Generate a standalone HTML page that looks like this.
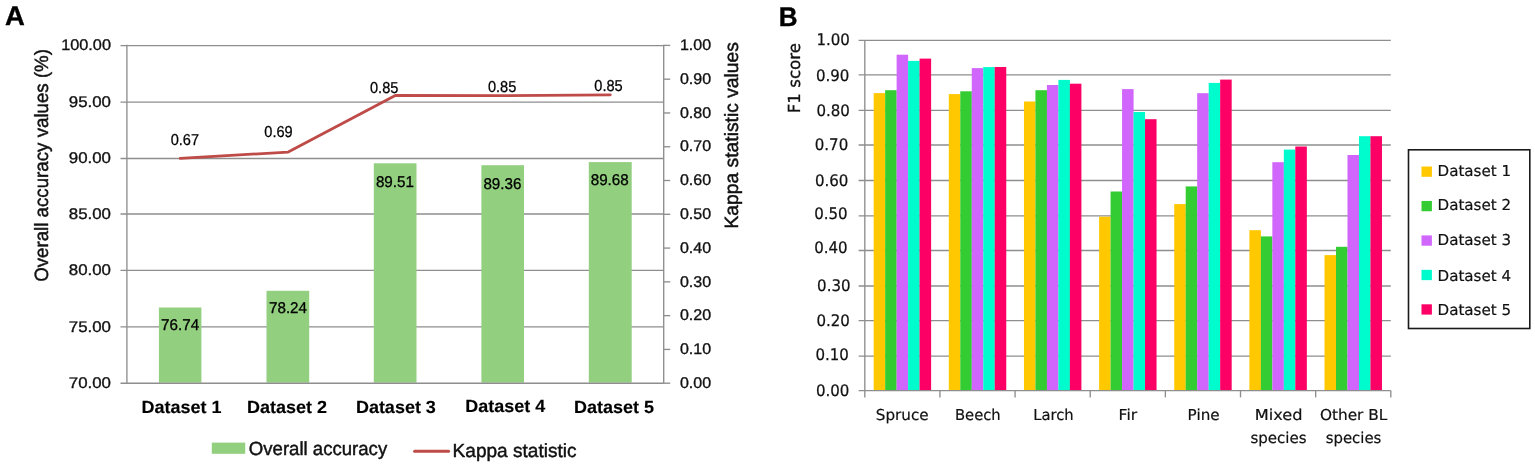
<!DOCTYPE html>
<html lang="en">
<head>
<meta charset="utf-8">
<title>Figure: overall accuracy, kappa statistic and F1 score per dataset</title>
<style>
html,body{margin:0;padding:0;background:#fff;}
body{width:1535px;height:466px;overflow:hidden;}
svg{display:block;}
text{white-space:pre;text-rendering:geometricPrecision;}
</style>
</head>
<body>
<svg width="1535" height="466" viewBox="0 0 1535 466">
<rect x="0" y="0" width="1535" height="466" fill="#ffffff"/>
<text x="5.00" y="25.10" font-size="26.8" font-family='"Liberation Sans", sans-serif' fill="#000" stroke="#000" stroke-width="0.4" stroke-linejoin="round" font-weight="bold" textLength="19.80" lengthAdjust="spacingAndGlyphs">A</text>
<text x="778.80" y="25.50" font-size="26.8" font-family='"Liberation Sans", sans-serif' fill="#000" stroke="#000" stroke-width="0.4" stroke-linejoin="round" font-weight="bold" textLength="18.80" lengthAdjust="spacingAndGlyphs">B</text>
<line x1="120.50" y1="45.55" x2="663.70" y2="45.55" stroke="#8e8e8e" stroke-width="1.35"/>
<line x1="120.50" y1="102.10" x2="663.70" y2="102.10" stroke="#8e8e8e" stroke-width="1.35"/>
<line x1="120.50" y1="158.50" x2="663.70" y2="158.50" stroke="#8e8e8e" stroke-width="1.35"/>
<line x1="120.50" y1="214.00" x2="663.70" y2="214.00" stroke="#8e8e8e" stroke-width="1.35"/>
<line x1="120.50" y1="270.40" x2="663.70" y2="270.40" stroke="#8e8e8e" stroke-width="1.35"/>
<line x1="120.50" y1="326.90" x2="663.70" y2="326.90" stroke="#8e8e8e" stroke-width="1.35"/>
<line x1="126.90" y1="44.80" x2="126.90" y2="383.80" stroke="#8e8e8e" stroke-width="1.35"/>
<line x1="663.70" y1="44.80" x2="663.70" y2="383.80" stroke="#8e8e8e" stroke-width="1.35"/>
<line x1="663.70" y1="45.40" x2="670.20" y2="45.40" stroke="#8e8e8e" stroke-width="1.35"/>
<line x1="663.70" y1="79.18" x2="670.20" y2="79.18" stroke="#8e8e8e" stroke-width="1.35"/>
<line x1="663.70" y1="112.96" x2="670.20" y2="112.96" stroke="#8e8e8e" stroke-width="1.35"/>
<line x1="663.70" y1="146.74" x2="670.20" y2="146.74" stroke="#8e8e8e" stroke-width="1.35"/>
<line x1="663.70" y1="180.52" x2="670.20" y2="180.52" stroke="#8e8e8e" stroke-width="1.35"/>
<line x1="663.70" y1="214.30" x2="670.20" y2="214.30" stroke="#8e8e8e" stroke-width="1.35"/>
<line x1="663.70" y1="248.08" x2="670.20" y2="248.08" stroke="#8e8e8e" stroke-width="1.35"/>
<line x1="663.70" y1="281.86" x2="670.20" y2="281.86" stroke="#8e8e8e" stroke-width="1.35"/>
<line x1="663.70" y1="315.64" x2="670.20" y2="315.64" stroke="#8e8e8e" stroke-width="1.35"/>
<line x1="663.70" y1="349.42" x2="670.20" y2="349.42" stroke="#8e8e8e" stroke-width="1.35"/>
<line x1="663.70" y1="383.20" x2="670.20" y2="383.20" stroke="#8e8e8e" stroke-width="1.35"/>
<text x="61.20" y="50.15" font-size="15.4" font-family='"Liberation Sans", sans-serif' fill="#111" stroke="#111" stroke-width="0.35" stroke-linejoin="round" textLength="49.80" lengthAdjust="spacingAndGlyphs">100.00</text>
<text x="68.80" y="106.70" font-size="15.4" font-family='"Liberation Sans", sans-serif' fill="#111" stroke="#111" stroke-width="0.35" stroke-linejoin="round" textLength="42.20" lengthAdjust="spacingAndGlyphs">95.00</text>
<text x="68.80" y="163.10" font-size="15.4" font-family='"Liberation Sans", sans-serif' fill="#111" stroke="#111" stroke-width="0.35" stroke-linejoin="round" textLength="42.20" lengthAdjust="spacingAndGlyphs">90.00</text>
<text x="68.80" y="218.60" font-size="15.4" font-family='"Liberation Sans", sans-serif' fill="#111" stroke="#111" stroke-width="0.35" stroke-linejoin="round" textLength="42.20" lengthAdjust="spacingAndGlyphs">85.00</text>
<text x="68.80" y="275.00" font-size="15.4" font-family='"Liberation Sans", sans-serif' fill="#111" stroke="#111" stroke-width="0.35" stroke-linejoin="round" textLength="42.20" lengthAdjust="spacingAndGlyphs">80.00</text>
<text x="68.80" y="331.50" font-size="15.4" font-family='"Liberation Sans", sans-serif' fill="#111" stroke="#111" stroke-width="0.35" stroke-linejoin="round" textLength="42.20" lengthAdjust="spacingAndGlyphs">75.00</text>
<text x="68.80" y="387.80" font-size="15.4" font-family='"Liberation Sans", sans-serif' fill="#111" stroke="#111" stroke-width="0.35" stroke-linejoin="round" textLength="42.20" lengthAdjust="spacingAndGlyphs">70.00</text>
<text x="679.90" y="50.10" font-size="15.4" font-family='"Liberation Sans", sans-serif' fill="#111" stroke="#111" stroke-width="0.35" stroke-linejoin="round" textLength="31.20" lengthAdjust="spacingAndGlyphs">1.00</text>
<text x="679.90" y="83.88" font-size="15.4" font-family='"Liberation Sans", sans-serif' fill="#111" stroke="#111" stroke-width="0.35" stroke-linejoin="round" textLength="31.20" lengthAdjust="spacingAndGlyphs">0.90</text>
<text x="679.90" y="117.66" font-size="15.4" font-family='"Liberation Sans", sans-serif' fill="#111" stroke="#111" stroke-width="0.35" stroke-linejoin="round" textLength="31.20" lengthAdjust="spacingAndGlyphs">0.80</text>
<text x="679.90" y="151.44" font-size="15.4" font-family='"Liberation Sans", sans-serif' fill="#111" stroke="#111" stroke-width="0.35" stroke-linejoin="round" textLength="31.20" lengthAdjust="spacingAndGlyphs">0.70</text>
<text x="679.90" y="185.22" font-size="15.4" font-family='"Liberation Sans", sans-serif' fill="#111" stroke="#111" stroke-width="0.35" stroke-linejoin="round" textLength="31.20" lengthAdjust="spacingAndGlyphs">0.60</text>
<text x="679.90" y="219.00" font-size="15.4" font-family='"Liberation Sans", sans-serif' fill="#111" stroke="#111" stroke-width="0.35" stroke-linejoin="round" textLength="31.20" lengthAdjust="spacingAndGlyphs">0.50</text>
<text x="679.90" y="252.78" font-size="15.4" font-family='"Liberation Sans", sans-serif' fill="#111" stroke="#111" stroke-width="0.35" stroke-linejoin="round" textLength="31.20" lengthAdjust="spacingAndGlyphs">0.40</text>
<text x="679.90" y="286.56" font-size="15.4" font-family='"Liberation Sans", sans-serif' fill="#111" stroke="#111" stroke-width="0.35" stroke-linejoin="round" textLength="31.20" lengthAdjust="spacingAndGlyphs">0.30</text>
<text x="679.90" y="320.34" font-size="15.4" font-family='"Liberation Sans", sans-serif' fill="#111" stroke="#111" stroke-width="0.35" stroke-linejoin="round" textLength="31.20" lengthAdjust="spacingAndGlyphs">0.20</text>
<text x="679.90" y="354.12" font-size="15.4" font-family='"Liberation Sans", sans-serif' fill="#111" stroke="#111" stroke-width="0.35" stroke-linejoin="round" textLength="31.20" lengthAdjust="spacingAndGlyphs">0.10</text>
<text x="679.90" y="387.90" font-size="15.4" font-family='"Liberation Sans", sans-serif' fill="#111" stroke="#111" stroke-width="0.35" stroke-linejoin="round" textLength="31.20" lengthAdjust="spacingAndGlyphs">0.00</text>
<text x="47.70" y="281.80" font-size="19.2" font-family='"Liberation Sans", sans-serif' fill="#111" stroke="#111" stroke-width="0.45" stroke-linejoin="round" textLength="232.80" lengthAdjust="spacingAndGlyphs" transform="rotate(-90 47.70 281.80)">Overall accuracy values (%)</text>
<text x="737.80" y="228.50" font-size="19.2" font-family='"Liberation Sans", sans-serif' fill="#111" stroke="#111" stroke-width="0.45" stroke-linejoin="round" textLength="186.40" lengthAdjust="spacingAndGlyphs" transform="rotate(-90 737.80 228.50)">Kappa statistic values</text>
<rect x="158.90" y="307.50" width="42.50" height="75.10" fill="#92cf7f"/>
<rect x="266.50" y="290.80" width="42.70" height="91.80" fill="#92cf7f"/>
<rect x="373.80" y="163.30" width="42.70" height="219.30" fill="#92cf7f"/>
<rect x="481.40" y="165.20" width="42.60" height="217.40" fill="#92cf7f"/>
<rect x="588.80" y="162.10" width="42.90" height="220.50" fill="#92cf7f"/>
<line x1="120.50" y1="383.20" x2="663.70" y2="383.20" stroke="#8e8e8e" stroke-width="1.35"/>
<polyline fill="none" stroke="#be4b48" stroke-width="2.8" stroke-linejoin="round" stroke-linecap="round" points="180.2,158.3 288.2,152.1 395.3,95.5 503.0,95.6 610.3,94.8"/>
<text x="161.10" y="330.20" font-size="15.6" font-family='"Liberation Sans", sans-serif' fill="#000" stroke="#000" stroke-width="0.3" stroke-linejoin="round" textLength="38.00" lengthAdjust="spacingAndGlyphs">76.74</text>
<text x="269.00" y="313.40" font-size="15.6" font-family='"Liberation Sans", sans-serif' fill="#000" stroke="#000" stroke-width="0.3" stroke-linejoin="round" textLength="38.00" lengthAdjust="spacingAndGlyphs">78.24</text>
<text x="375.90" y="186.80" font-size="15.6" font-family='"Liberation Sans", sans-serif' fill="#000" stroke="#000" stroke-width="0.3" stroke-linejoin="round" textLength="38.00" lengthAdjust="spacingAndGlyphs">89.51</text>
<text x="483.40" y="188.80" font-size="15.6" font-family='"Liberation Sans", sans-serif' fill="#000" stroke="#000" stroke-width="0.3" stroke-linejoin="round" textLength="38.00" lengthAdjust="spacingAndGlyphs">89.36</text>
<text x="590.70" y="185.00" font-size="15.6" font-family='"Liberation Sans", sans-serif' fill="#000" stroke="#000" stroke-width="0.3" stroke-linejoin="round" textLength="38.00" lengthAdjust="spacingAndGlyphs">89.68</text>
<text x="170.70" y="145.20" font-size="15.8" font-family='"Liberation Sans", sans-serif' fill="#000" stroke="#000" stroke-width="0.25" stroke-linejoin="round" textLength="28.40" lengthAdjust="spacingAndGlyphs">0.67</text>
<text x="264.30" y="136.80" font-size="15.8" font-family='"Liberation Sans", sans-serif' fill="#000" stroke="#000" stroke-width="0.25" stroke-linejoin="round" textLength="28.40" lengthAdjust="spacingAndGlyphs">0.69</text>
<text x="370.00" y="92.70" font-size="15.8" font-family='"Liberation Sans", sans-serif' fill="#000" stroke="#000" stroke-width="0.25" stroke-linejoin="round" textLength="28.40" lengthAdjust="spacingAndGlyphs">0.85</text>
<text x="487.90" y="91.80" font-size="15.8" font-family='"Liberation Sans", sans-serif' fill="#000" stroke="#000" stroke-width="0.25" stroke-linejoin="round" textLength="28.40" lengthAdjust="spacingAndGlyphs">0.85</text>
<text x="594.30" y="90.90" font-size="15.8" font-family='"Liberation Sans", sans-serif' fill="#000" stroke="#000" stroke-width="0.25" stroke-linejoin="round" textLength="28.40" lengthAdjust="spacingAndGlyphs">0.85</text>
<text x="141.60" y="412.90" font-size="17.6" font-family='"Liberation Sans", sans-serif' fill="#000" stroke="#000" stroke-width="0.15" stroke-linejoin="round" font-weight="bold" textLength="80.00" lengthAdjust="spacingAndGlyphs">Dataset 1</text>
<text x="247.10" y="412.90" font-size="17.6" font-family='"Liberation Sans", sans-serif' fill="#000" stroke="#000" stroke-width="0.15" stroke-linejoin="round" font-weight="bold" textLength="80.00" lengthAdjust="spacingAndGlyphs">Dataset 2</text>
<text x="355.90" y="412.90" font-size="17.6" font-family='"Liberation Sans", sans-serif' fill="#000" stroke="#000" stroke-width="0.15" stroke-linejoin="round" font-weight="bold" textLength="80.00" lengthAdjust="spacingAndGlyphs">Dataset 3</text>
<text x="465.30" y="411.60" font-size="17.6" font-family='"Liberation Sans", sans-serif' fill="#000" stroke="#000" stroke-width="0.15" stroke-linejoin="round" font-weight="bold" textLength="80.00" lengthAdjust="spacingAndGlyphs">Dataset 4</text>
<text x="574.00" y="412.90" font-size="17.6" font-family='"Liberation Sans", sans-serif' fill="#000" stroke="#000" stroke-width="0.15" stroke-linejoin="round" font-weight="bold" textLength="80.00" lengthAdjust="spacingAndGlyphs">Dataset 5</text>
<rect x="211.80" y="442.60" width="33.40" height="11.20" fill="#92cf7f"/>
<text x="248.80" y="455.20" font-size="19.0" font-family='"Liberation Sans", sans-serif' fill="#111" stroke="#111" stroke-width="0.45" stroke-linejoin="round" textLength="138.40" lengthAdjust="spacingAndGlyphs">Overall accuracy</text>
<line x1="414.60" y1="451.30" x2="448.60" y2="451.30" stroke="#be4b48" stroke-width="3.0" stroke-linecap="round"/>
<text x="452.60" y="456.90" font-size="19.0" font-family='"Liberation Sans", sans-serif' fill="#111" stroke="#111" stroke-width="0.45" stroke-linejoin="round" textLength="124.00" lengthAdjust="spacingAndGlyphs">Kappa statistic</text>
<line x1="858.60" y1="40.40" x2="1390.80" y2="40.40" stroke="#8e8e8e" stroke-width="1.35"/>
<line x1="858.60" y1="74.80" x2="1390.80" y2="74.80" stroke="#8e8e8e" stroke-width="1.35"/>
<line x1="858.60" y1="110.40" x2="1390.80" y2="110.40" stroke="#8e8e8e" stroke-width="1.35"/>
<line x1="858.60" y1="145.00" x2="1390.80" y2="145.00" stroke="#8e8e8e" stroke-width="1.35"/>
<line x1="858.60" y1="180.50" x2="1390.80" y2="180.50" stroke="#8e8e8e" stroke-width="1.35"/>
<line x1="858.60" y1="215.90" x2="1390.80" y2="215.90" stroke="#8e8e8e" stroke-width="1.35"/>
<line x1="858.60" y1="250.50" x2="1390.80" y2="250.50" stroke="#8e8e8e" stroke-width="1.35"/>
<line x1="858.60" y1="286.00" x2="1390.80" y2="286.00" stroke="#8e8e8e" stroke-width="1.35"/>
<line x1="858.60" y1="320.60" x2="1390.80" y2="320.60" stroke="#8e8e8e" stroke-width="1.35"/>
<line x1="858.60" y1="356.10" x2="1390.80" y2="356.10" stroke="#8e8e8e" stroke-width="1.35"/>
<line x1="864.80" y1="40.10" x2="864.80" y2="397.40" stroke="#8e8e8e" stroke-width="1.35"/>
<line x1="939.94" y1="390.60" x2="939.94" y2="397.40" stroke="#8e8e8e" stroke-width="1.35"/>
<line x1="1015.09" y1="390.60" x2="1015.09" y2="397.40" stroke="#8e8e8e" stroke-width="1.35"/>
<line x1="1090.23" y1="390.60" x2="1090.23" y2="397.40" stroke="#8e8e8e" stroke-width="1.35"/>
<line x1="1165.37" y1="390.60" x2="1165.37" y2="397.40" stroke="#8e8e8e" stroke-width="1.35"/>
<line x1="1240.51" y1="390.60" x2="1240.51" y2="397.40" stroke="#8e8e8e" stroke-width="1.35"/>
<line x1="1315.66" y1="390.60" x2="1315.66" y2="397.40" stroke="#8e8e8e" stroke-width="1.35"/>
<line x1="1390.80" y1="390.60" x2="1390.80" y2="397.40" stroke="#8e8e8e" stroke-width="1.35"/>
<text x="816.50" y="45.30" font-size="16" font-family='"DejaVu Sans", "Liberation Sans", sans-serif' fill="#111" stroke="#111" stroke-width="0.25" stroke-linejoin="round" textLength="33.40" lengthAdjust="spacingAndGlyphs">1.00</text>
<text x="816.00" y="81.12" font-size="16" font-family='"DejaVu Sans", "Liberation Sans", sans-serif' fill="#111" stroke="#111" stroke-width="0.25" stroke-linejoin="round" textLength="33.40" lengthAdjust="spacingAndGlyphs">0.90</text>
<text x="816.40" y="115.54" font-size="16" font-family='"DejaVu Sans", "Liberation Sans", sans-serif' fill="#111" stroke="#111" stroke-width="0.25" stroke-linejoin="round" textLength="33.40" lengthAdjust="spacingAndGlyphs">0.80</text>
<text x="814.80" y="150.06" font-size="16" font-family='"DejaVu Sans", "Liberation Sans", sans-serif' fill="#111" stroke="#111" stroke-width="0.25" stroke-linejoin="round" textLength="33.40" lengthAdjust="spacingAndGlyphs">0.70</text>
<text x="815.00" y="186.28" font-size="16" font-family='"DejaVu Sans", "Liberation Sans", sans-serif' fill="#111" stroke="#111" stroke-width="0.25" stroke-linejoin="round" textLength="33.40" lengthAdjust="spacingAndGlyphs">0.60</text>
<text x="814.20" y="219.20" font-size="16" font-family='"DejaVu Sans", "Liberation Sans", sans-serif' fill="#111" stroke="#111" stroke-width="0.25" stroke-linejoin="round" textLength="33.40" lengthAdjust="spacingAndGlyphs">0.50</text>
<text x="814.20" y="252.82" font-size="16" font-family='"DejaVu Sans", "Liberation Sans", sans-serif' fill="#111" stroke="#111" stroke-width="0.25" stroke-linejoin="round" textLength="33.40" lengthAdjust="spacingAndGlyphs">0.40</text>
<text x="817.10" y="291.34" font-size="16" font-family='"DejaVu Sans", "Liberation Sans", sans-serif' fill="#111" stroke="#111" stroke-width="0.25" stroke-linejoin="round" textLength="33.40" lengthAdjust="spacingAndGlyphs">0.30</text>
<text x="816.40" y="325.66" font-size="16" font-family='"DejaVu Sans", "Liberation Sans", sans-serif' fill="#111" stroke="#111" stroke-width="0.25" stroke-linejoin="round" textLength="33.40" lengthAdjust="spacingAndGlyphs">0.20</text>
<text x="815.40" y="360.48" font-size="16" font-family='"DejaVu Sans", "Liberation Sans", sans-serif' fill="#111" stroke="#111" stroke-width="0.25" stroke-linejoin="round" textLength="33.40" lengthAdjust="spacingAndGlyphs">0.10</text>
<text x="816.00" y="395.70" font-size="16" font-family='"DejaVu Sans", "Liberation Sans", sans-serif' fill="#111" stroke="#111" stroke-width="0.25" stroke-linejoin="round" textLength="33.40" lengthAdjust="spacingAndGlyphs">0.00</text>
<text x="800.50" y="113.30" font-size="16.6" font-family='"DejaVu Sans", "Liberation Sans", sans-serif' fill="#111" stroke="#111" stroke-width="0.3" stroke-linejoin="round" textLength="70.30" lengthAdjust="spacingAndGlyphs" transform="rotate(-90 800.50 113.30)">F1 score</text>
<rect x="873.67" y="93.10" width="11.53" height="296.90" fill="#ffc800"/>
<rect x="885.15" y="90.20" width="11.53" height="299.80" fill="#33cc33"/>
<rect x="896.63" y="54.70" width="11.53" height="335.30" fill="#d066fc"/>
<rect x="908.11" y="60.90" width="11.53" height="329.10" fill="#00fbcc"/>
<rect x="919.59" y="58.60" width="11.53" height="331.40" fill="#fc0066"/>
<rect x="948.81" y="94.10" width="11.53" height="295.90" fill="#ffc800"/>
<rect x="960.29" y="91.30" width="11.53" height="298.70" fill="#33cc33"/>
<rect x="971.77" y="68.10" width="11.53" height="321.90" fill="#d066fc"/>
<rect x="983.25" y="67.10" width="11.53" height="322.90" fill="#00fbcc"/>
<rect x="994.73" y="67.00" width="11.53" height="323.00" fill="#fc0066"/>
<rect x="1023.96" y="101.50" width="11.53" height="288.50" fill="#ffc800"/>
<rect x="1035.44" y="90.20" width="11.53" height="299.80" fill="#33cc33"/>
<rect x="1046.92" y="85.00" width="11.53" height="305.00" fill="#d066fc"/>
<rect x="1058.40" y="79.90" width="11.53" height="310.10" fill="#00fbcc"/>
<rect x="1069.88" y="83.70" width="11.53" height="306.30" fill="#fc0066"/>
<rect x="1099.10" y="216.70" width="11.53" height="173.30" fill="#ffc800"/>
<rect x="1110.58" y="191.50" width="11.53" height="198.50" fill="#33cc33"/>
<rect x="1122.06" y="89.10" width="11.53" height="300.90" fill="#d066fc"/>
<rect x="1133.54" y="112.00" width="11.53" height="278.00" fill="#00fbcc"/>
<rect x="1145.02" y="119.20" width="11.53" height="270.80" fill="#fc0066"/>
<rect x="1174.24" y="204.10" width="11.53" height="185.90" fill="#ffc800"/>
<rect x="1185.72" y="186.40" width="11.53" height="203.60" fill="#33cc33"/>
<rect x="1197.20" y="93.20" width="11.53" height="296.80" fill="#d066fc"/>
<rect x="1208.68" y="82.90" width="11.53" height="307.10" fill="#00fbcc"/>
<rect x="1220.16" y="79.60" width="11.53" height="310.40" fill="#fc0066"/>
<rect x="1249.39" y="230.20" width="11.53" height="159.80" fill="#ffc800"/>
<rect x="1260.87" y="236.40" width="11.53" height="153.60" fill="#33cc33"/>
<rect x="1272.35" y="162.20" width="11.53" height="227.80" fill="#d066fc"/>
<rect x="1283.83" y="149.60" width="11.53" height="240.40" fill="#00fbcc"/>
<rect x="1295.31" y="146.50" width="11.53" height="243.50" fill="#fc0066"/>
<rect x="1324.53" y="255.10" width="11.53" height="134.90" fill="#ffc800"/>
<rect x="1336.01" y="246.80" width="11.53" height="143.20" fill="#33cc33"/>
<rect x="1347.49" y="155.00" width="11.53" height="235.00" fill="#d066fc"/>
<rect x="1358.97" y="136.20" width="11.53" height="253.80" fill="#00fbcc"/>
<rect x="1370.45" y="136.20" width="11.53" height="253.80" fill="#fc0066"/>
<line x1="858.60" y1="390.60" x2="1390.80" y2="390.60" stroke="#8e8e8e" stroke-width="1.35"/>
<text x="875.80" y="420.10" font-size="15" font-family='"DejaVu Sans", "Liberation Sans", sans-serif' fill="#111" stroke="#111" stroke-width="0.2" stroke-linejoin="round" textLength="52.80" lengthAdjust="spacingAndGlyphs">Spruce</text>
<text x="955.00" y="420.10" font-size="15" font-family='"DejaVu Sans", "Liberation Sans", sans-serif' fill="#111" stroke="#111" stroke-width="0.2" stroke-linejoin="round" textLength="45.70" lengthAdjust="spacingAndGlyphs">Beech</text>
<text x="1033.30" y="420.10" font-size="15" font-family='"DejaVu Sans", "Liberation Sans", sans-serif' fill="#111" stroke="#111" stroke-width="0.2" stroke-linejoin="round" textLength="40.40" lengthAdjust="spacingAndGlyphs">Larch</text>
<text x="1118.60" y="420.10" font-size="15" font-family='"DejaVu Sans", "Liberation Sans", sans-serif' fill="#111" stroke="#111" stroke-width="0.2" stroke-linejoin="round" textLength="18.50" lengthAdjust="spacingAndGlyphs">Fir</text>
<text x="1187.60" y="420.10" font-size="15" font-family='"DejaVu Sans", "Liberation Sans", sans-serif' fill="#111" stroke="#111" stroke-width="0.2" stroke-linejoin="round" textLength="32.00" lengthAdjust="spacingAndGlyphs">Pine</text>
<text x="1254.70" y="420.10" font-size="15" font-family='"DejaVu Sans", "Liberation Sans", sans-serif' fill="#111" stroke="#111" stroke-width="0.2" stroke-linejoin="round" textLength="47.80" lengthAdjust="spacingAndGlyphs">Mixed</text>
<text x="1250.40" y="442.70" font-size="15" font-family='"DejaVu Sans", "Liberation Sans", sans-serif' fill="#111" stroke="#111" stroke-width="0.2" stroke-linejoin="round" textLength="56.20" lengthAdjust="spacingAndGlyphs">species</text>
<text x="1319.90" y="420.10" font-size="15" font-family='"DejaVu Sans", "Liberation Sans", sans-serif' fill="#111" stroke="#111" stroke-width="0.2" stroke-linejoin="round" textLength="67.40" lengthAdjust="spacingAndGlyphs">Other BL</text>
<text x="1325.70" y="442.70" font-size="15" font-family='"DejaVu Sans", "Liberation Sans", sans-serif' fill="#111" stroke="#111" stroke-width="0.2" stroke-linejoin="round" textLength="55.70" lengthAdjust="spacingAndGlyphs">species</text>
<rect x="1408.5" y="149.8" width="121.3" height="178.7" fill="#fff" stroke="#1a1a1a" stroke-width="1.6"/>
<rect x="1421.50" y="166.50" width="10.40" height="10.30" fill="#ffc800"/>
<text x="1437.50" y="175.90" font-size="15" font-family='"DejaVu Sans", "Liberation Sans", sans-serif' fill="#111" stroke="#111" stroke-width="0.2" stroke-linejoin="round" textLength="73.60" lengthAdjust="spacingAndGlyphs">Dataset 1</text>
<rect x="1421.50" y="200.95" width="10.40" height="10.30" fill="#33cc33"/>
<text x="1437.50" y="210.25" font-size="15" font-family='"DejaVu Sans", "Liberation Sans", sans-serif' fill="#111" stroke="#111" stroke-width="0.2" stroke-linejoin="round" textLength="73.60" lengthAdjust="spacingAndGlyphs">Dataset 2</text>
<rect x="1421.50" y="235.40" width="10.40" height="10.30" fill="#d066fc"/>
<text x="1437.50" y="245.25" font-size="15" font-family='"DejaVu Sans", "Liberation Sans", sans-serif' fill="#111" stroke="#111" stroke-width="0.2" stroke-linejoin="round" textLength="73.60" lengthAdjust="spacingAndGlyphs">Dataset 3</text>
<rect x="1421.50" y="269.85" width="10.40" height="10.30" fill="#00fbcc"/>
<text x="1437.50" y="280.60" font-size="15" font-family='"DejaVu Sans", "Liberation Sans", sans-serif' fill="#111" stroke="#111" stroke-width="0.2" stroke-linejoin="round" textLength="73.60" lengthAdjust="spacingAndGlyphs">Dataset 4</text>
<rect x="1421.50" y="304.30" width="10.40" height="10.30" fill="#fc0066"/>
<text x="1437.50" y="314.70" font-size="15" font-family='"DejaVu Sans", "Liberation Sans", sans-serif' fill="#111" stroke="#111" stroke-width="0.2" stroke-linejoin="round" textLength="73.60" lengthAdjust="spacingAndGlyphs">Dataset 5</text>
</svg>
</body>
</html>
